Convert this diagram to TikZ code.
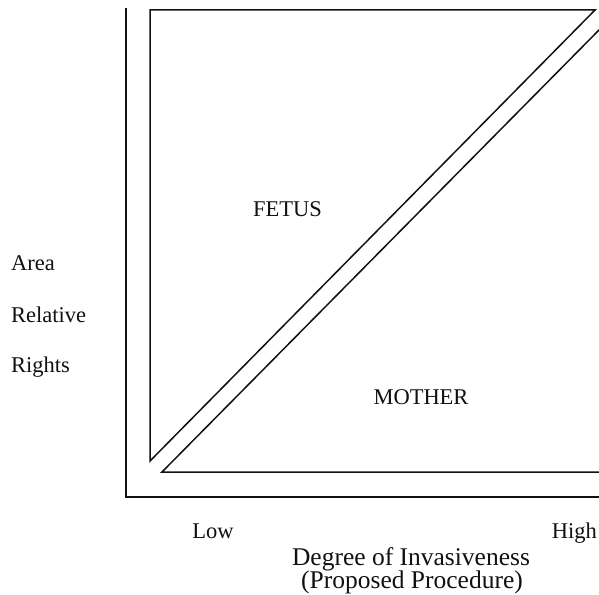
\documentclass[tikz,border=0pt]{standalone}
\usepackage{fontspec}
\setmainfont{Liberation Serif}
\usepackage{xcolor}
\definecolor{chart-ink}{HTML}{111111}
\usepackage{tikz}

\begin{document}
\begin{tikzpicture}[x=1pt, y=-1pt,
    label/.style={text=chart-ink, font=\fontsize{22.5}{26}\selectfont, inner sep=0pt, anchor=base},
    caption/.style={label, font=\fontsize{25.5}{29}\selectfont}]

    % Background
    \useasboundingbox[fill=white] (0, 0) rectangle (599, 594);

    % Axes
    \draw[chart-ink, line width=1.8pt] (126, 8) -- (126, 497) -- (599, 497);

    % Fetus triangle
    \draw[chart-ink, line width=1.5pt, line join=miter] (150, 10) -- (595, 10) -- (150, 461) -- cycle;

    % Mother triangle
    \draw[chart-ink, line width=1.5pt, line join=miter] (599, 30) -- (162, 472) -- (599, 472);

    % Region labels
    \node[label] (fetus) at (287.5, 216.5) {FETUS};
    \node[label] (mother) at (421, 404) {MOTHER};

    % Vertical axis label
    \node[label, anchor=base west] (area) at (11, 270.5) {Area};
    \node[label, anchor=base west] (relative) at (11, 322) {Relative};
    \node[label, anchor=base west] (rights) at (11, 372.5) {Rights};

    % Horizontal axis labels
    \node[label] (low) at (213, 538) {Low};
    \node[label, anchor=base east] (high) at (597, 538) {High};
    \node[caption] (degree) at (411, 565.5) {Degree of Invasiveness};
    \node[caption] (procedure) at (412, 588.5) {(Proposed Procedure)};

\end{tikzpicture}
\end{document}
